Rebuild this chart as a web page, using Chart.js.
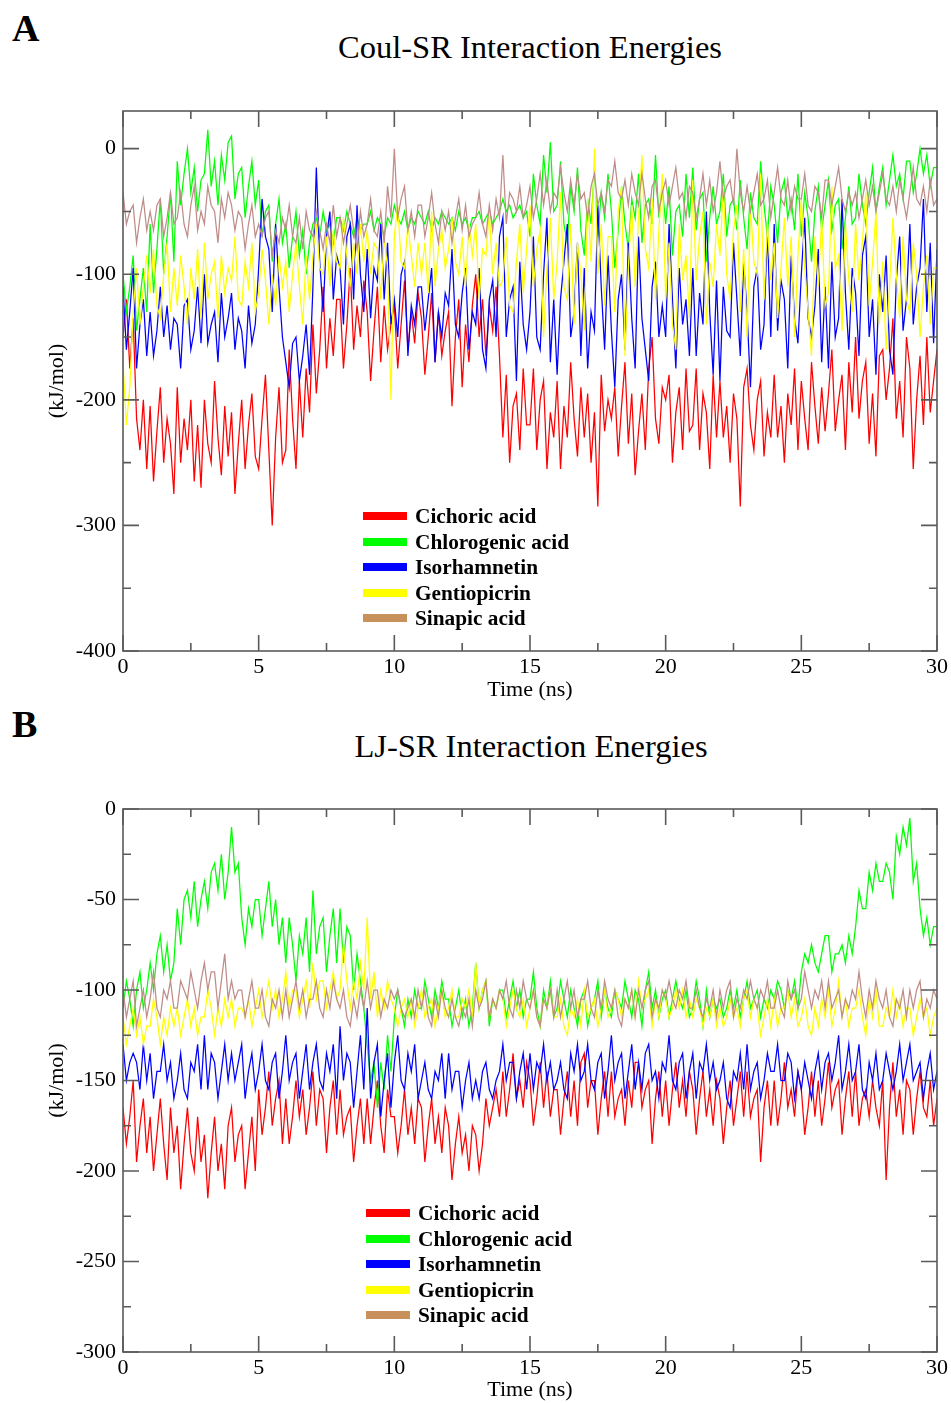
<!DOCTYPE html>
<html>
<head>
<meta charset="utf-8">
<script src="https://cdn.jsdelivr.net/npm/chart.js@4.4.1/dist/chart.umd.min.js"></script>
<style>
  html,body{margin:0;padding:0;background:#fff;}
  body{width:951px;height:1403px;position:relative;overflow:hidden;font-family:"Liberation Serif","Times New Roman",serif;}
  canvas{position:absolute;left:0;}
  .panel{position:absolute;font-weight:bold;font-size:38px;line-height:40px;left:12px;}
  .title{position:absolute;font-size:32.5px;line-height:36px;width:600px;text-align:center;}
  .leg{position:absolute;font-weight:bold;font-size:21.3px;line-height:25px;white-space:nowrap;}
  .sw{position:absolute;width:44px;height:8px;}
</style>
</head>
<body>
<div class="panel" style="top:8px;">A</div>
<div class="title" style="left:230px;top:29px;">Coul-SR Interaction Energies</div>
<div class="panel" style="top:704px;">B</div>
<div class="title" style="left:231px;top:728px;">LJ-SR Interaction Energies</div>
<canvas id="cA" width="951" height="705" style="top:0;width:951px;height:705px;"></canvas>
<canvas id="cB" width="951" height="703" style="top:700px;width:951px;height:703px;"></canvas>
<div id="legA"></div>
<div id="legB"></div>
<script>
const TIME = [
0,0.125,0.25,0.375,0.5,0.625,0.75,0.875, 1,1.125,1.25,1.375,1.5,1.625,1.75,1.875,
2,2.125,2.25,2.375,2.5,2.625,2.75,2.875, 3,3.125,3.25,3.375,3.5,3.625,3.75,3.875,
4,4.125,4.25,4.375,4.5,4.625,4.75,4.875, 5,5.125,5.25,5.375,5.5,5.625,5.75,5.875,
6,6.125,6.25,6.375,6.5,6.625,6.75,6.875, 7,7.125,7.25,7.375,7.5,7.625,7.75,7.875,
8,8.125,8.25,8.375,8.5,8.625,8.75,8.875, 9,9.125,9.25,9.375,9.5,9.625,9.75,9.875,
10,10.125,10.25,10.375,10.5,10.625,10.75,10.875, 11,11.125,11.25,11.375,11.5,11.625,11.75,11.875,
12,12.125,12.25,12.375,12.5,12.625,12.75,12.875, 13,13.125,13.25,13.375,13.5,13.625,13.75,13.875,
14,14.125,14.25,14.375,14.5,14.625,14.75,14.875, 15,15.125,15.25,15.375,15.5,15.625,15.75,15.875,
16,16.125,16.25,16.375,16.5,16.625,16.75,16.875, 17,17.125,17.25,17.375,17.5,17.625,17.75,17.875,
18,18.125,18.25,18.375,18.5,18.625,18.75,18.875, 19,19.125,19.25,19.375,19.5,19.625,19.75,19.875,
20,20.125,20.25,20.375,20.5,20.625,20.75,20.875, 21,21.125,21.25,21.375,21.5,21.625,21.75,21.875,
22,22.125,22.25,22.375,22.5,22.625,22.75,22.875, 23,23.125,23.25,23.375,23.5,23.625,23.75,23.875,
24,24.125,24.25,24.375,24.5,24.625,24.75,24.875, 25,25.125,25.25,25.375,25.5,25.625,25.75,25.875,
26,26.125,26.25,26.375,26.5,26.625,26.75,26.875, 27,27.125,27.25,27.375,27.5,27.625,27.75,27.875,
28,28.125,28.25,28.375,28.5,28.625,28.75,28.875, 29,29.125,29.25,29.375,29.5,29.625,29.75,29.875,
30];

const SERIES_NAMES = ["Cichoric acid","Chlorogenic acid","Isorhamnetin","Gentiopicrin","Sinapic acid"];
const X_TICKS = [0,5,10,15,20,25,30];
const Y_TICKS_A = [-400,-300,-200,-100,0];
const Y_TICKS_B = [-300,-250,-200,-150,-100,-50,0];

// Panel A: Coul-SR (kJ/mol), one row per ns
const COUL_CICHORIC = [
-150,-120,-175,-135,-215,-240,-200,-255,
-205,-265,-225,-190,-250,-215,-235,-275,
-190,-250,-215,-240,-200,-265,-220,-270,
-200,-235,-250,-185,-230,-260,-205,-245,
-210,-275,-235,-200,-255,-220,-195,-245,
-255,-215,-180,-240,-300,-230,-190,-250,
-240,-160,-215,-255,-185,-230,-175,-210,
-140,-195,-160,-110,-175,-135,-165,-120,
-120,-175,-140,-95,-160,-125,-150,-105,
-130,-185,-145,-110,-170,-125,-160,-140,
-125,-175,-140,-105,-160,-130,-155,-115,
-135,-180,-150,-115,-170,-130,-165,-145,
-130,-205,-150,-120,-190,-140,-170,-125,
-100,-150,-120,-165,-125,-145,-110,-165,
-230,-180,-250,-205,-195,-240,-175,-220,
-220,-175,-240,-200,-185,-255,-210,-230,
-185,-255,-205,-230,-170,-215,-245,-190,
-230,-195,-250,-210,-285,-180,-225,-200,
-215,-190,-245,-205,-170,-235,-195,-260,
-225,-195,-240,-175,-150,-215,-235,-190,
-200,-180,-250,-210,-190,-240,-175,-225,
-220,-175,-240,-195,-210,-255,-180,-230,
-185,-230,-205,-250,-195,-215,-285,-190,
-175,-220,-240,-200,-185,-245,-210,-230,
-180,-230,-205,-250,-195,-220,-175,-240,
-185,-215,-240,-170,-205,-235,-190,-225,
-195,-160,-225,-200,-180,-240,-170,-210,
-150,-215,-185,-170,-235,-195,-245,-165,
-160,-200,-175,-135,-215,-185,-230,-150,
-175,-255,-200,-165,-220,-150,-210,-185,
-160];
const COUL_CHLOROGENIC = [
-100,-130,-110,-85,-145,-120,-95,-130,
-60,-115,-80,-40,-100,-70,-35,-90,
-10,-45,-20,0,-35,-15,-50,-25,
-20,15,-30,-10,-45,-5,-25,5,
10,-40,-20,-15,-55,-30,-10,-45,
-25,-70,-50,-45,-90,-60,-40,-75,
-60,-95,-70,-50,-85,-65,-100,-75,
-60,-55,-70,-50,-65,-60,-75,-55,
-55,-65,-50,-60,-70,-55,-65,-60,
-60,-50,-65,-55,-60,-70,-55,-60,
-45,-55,-60,-50,-65,-55,-60,-50,
-55,-60,-50,-65,-55,-60,-50,-55,
-60,-55,-65,-50,-60,-55,-65,-55,
-55,-50,-60,-55,-50,-60,-55,-50,
-40,-50,-45,-55,-50,-45,-55,-50,
-70,-20,-45,-60,-5,-35,5,-50,
-45,-10,-60,-75,-30,-50,-15,-65,
-85,-40,-60,-15,-70,-35,-55,-20,
-50,-95,-65,-30,-60,-80,-40,-55,
-20,-75,-45,-40,-60,-5,-55,-30,
-60,-30,-85,-50,-45,-70,-20,-55,
-15,-65,-40,-35,-90,-55,-30,-60,
-50,-20,-70,-45,-40,-65,-25,-55,
-80,-35,-55,-60,-10,-45,-70,-30,
-45,-75,-35,-25,-55,-40,-65,-20,
-70,-35,-55,-90,-50,-30,-65,-45,
-25,-65,-45,-40,-80,-55,-30,-60,
-55,-20,-45,-60,-35,-15,-50,-30,
-15,-45,-25,-5,-30,-20,-40,-10,
-10,-35,-20,0,-20,-5,-30,-15,
-15];
const COUL_ISORHAMNETIN = [
-110,-160,-130,-95,-175,-140,-120,-165,
-130,-165,-145,-110,-150,-125,-160,-135,
-140,-175,-125,-120,-160,-145,-110,-155,
-100,-155,-140,-130,-170,-115,-150,-135,
-115,-160,-135,-145,-175,-125,-155,-140,
-95,-40,-70,-80,-130,-60,-110,-150,
-170,-190,-155,-150,-185,-165,-140,-180,
-110,-15,-90,-130,-70,-50,-120,-85,
-95,-140,-70,-60,-120,-45,-100,-130,
-80,-135,-95,-105,-60,-120,-75,-140,
-120,-150,-100,-90,-165,-125,-140,-110,
-110,-145,-120,-95,-170,-130,-150,-115,
-125,-80,-140,-150,-115,-95,-160,-130,
-140,-95,-160,-175,-120,-105,-150,-70,
-55,-150,-120,-110,-185,-90,-140,-160,
-130,-70,-150,-160,-100,-55,-170,-120,
-180,-120,-90,-60,-150,-130,-75,-165,
-95,-175,-130,-145,-45,-110,-160,-85,
-145,-190,-120,-100,-160,-75,-135,-175,
-70,-135,-160,-185,-110,-90,-150,-125,
-150,-60,-120,-175,-95,-140,-120,-165,
-95,-165,-115,-140,-50,-130,-180,-105,
-185,-110,-145,-150,-75,-120,-165,-90,
-130,-190,-110,-95,-160,-140,-65,-150,
-60,-145,-105,-120,-175,-85,-135,-155,
-100,-55,-135,-150,-125,-80,-170,-110,
-175,-90,-150,-135,-40,-115,-160,-95,
-115,-165,-85,-70,-150,-120,-180,-100,
-130,-85,-160,-180,-105,-70,-145,-120,
-60,-140,-110,-95,-40,-130,-75,-155,
-80];
const COUL_GENTIOPICRIN = [
-170,-220,-190,-130,-95,-140,-110,-85,
-115,-80,-125,-135,-100,-75,-130,-95,
-125,-85,-110,-140,-95,-120,-80,-135,
-75,-120,-100,-90,-135,-85,-115,-95,
-105,-70,-120,-125,-90,-110,-75,-130,
-115,-80,-105,-140,-100,-125,-85,-110,
-90,-130,-100,-75,-110,-140,-85,-120,
-85,-60,-95,-100,-70,-110,-65,-90,
-95,-55,-85,-110,-75,-100,-60,-90,
-65,-100,-75,-80,-120,-70,-95,-200,
-70,-45,-90,-95,-60,-85,-110,-75,
-100,-75,-115,-50,-110,-80,-65,-95,
-80,-55,-90,-100,-70,-110,-60,-85,
-60,-120,-80,-85,-50,-100,-75,-110,
-105,-70,-125,-130,-90,-60,-115,-80,
-45,-110,-80,-65,-150,-95,-55,-120,
-90,-35,-110,-120,-60,-140,-75,-100,
-145,-40,-90,0,-100,-60,-125,-70,
-70,-130,-50,-30,-165,-95,-45,-110,
-55,-5,-80,-95,-40,-120,-65,-20,
-120,-75,-140,-160,-60,-105,-85,-135,
-25,-105,-70,-50,-140,-90,-110,-60,
-85,-30,-100,-120,-65,-45,-130,-80,
-150,-45,-90,-100,-20,-120,-60,-105,
-75,-135,-95,-55,-110,-70,-150,-85,
-40,-95,-130,-165,-70,-110,-55,-125,
-115,-30,-95,-85,-145,-60,-105,-130,
-60,-105,-75,-35,-125,-90,-50,-140,
-90,-160,-110,-55,-100,-135,-70,-120,
-130,-75,-100,-150,-110,-85,-140,-95,
-95];
const COUL_SINAPIC = [
-35,-60,-50,-45,-75,-55,-40,-65,
-50,-65,-45,-40,-70,-55,-35,-60,
-55,-35,-60,-70,-45,-30,-65,-50,
-60,-30,-45,-50,-75,-40,-55,-35,
-45,-65,-50,-55,-80,-60,-45,-70,
-60,-70,-55,-50,-85,-65,-75,-55,
-65,-45,-70,-75,-55,-80,-50,-65,
-70,-50,-65,-80,-60,-75,-45,-70,
-55,-75,-60,-45,-65,-80,-50,-70,
-60,-40,-65,-70,-50,-75,-30,-55,
0,-55,-40,-30,-65,-50,-70,-45,
-45,-70,-55,-35,-60,-75,-50,-65,
-50,-75,-55,-40,-65,-45,-70,-60,
-55,-35,-60,-70,-45,-65,-40,-55,
-5,-60,-35,-40,-50,-30,-55,-45,
-30,-55,-40,-20,-45,-25,-50,-35,
-40,-15,-35,-50,-25,-45,-20,-40,
-35,-55,-30,-20,-45,-35,-50,-25,
-30,-10,-35,-40,-25,-45,-20,-35,
-45,-20,-40,-55,-30,-25,-50,-35,
-25,-45,-30,-15,-40,-35,-55,-30,
-35,-55,-40,-20,-45,-25,-50,-35,
-10,-40,-30,-25,-45,0,-35,-50,
-30,-50,-35,-20,-45,-40,-25,-55,
-35,-15,-40,-45,-25,-50,-30,-40,
-40,-20,-45,-50,-30,-35,-55,-25,
-25,-45,-30,-15,-40,-50,-35,-45,
-35,-55,-40,-25,-45,-30,-50,-35,
-20,-40,-45,-30,-50,-25,-40,-55,
-35,-15,-40,-45,-30,-50,-25,-45,
-40];

// Panel B: LJ-SR (kJ/mol), one row per ns
const LJ_CICHORIC = [
-165,-185,-170,-150,-195,-175,-160,-190,
-170,-200,-180,-160,-185,-205,-165,-190,
-175,-210,-185,-165,-190,-200,-170,-195,
-180,-215,-190,-170,-200,-185,-210,-175,
-165,-195,-180,-175,-210,-190,-170,-200,
-155,-180,-165,-145,-175,-160,-150,-185,
-160,-185,-170,-150,-170,-155,-180,-165,
-145,-175,-155,-160,-190,-165,-150,-180,
-155,-180,-170,-165,-195,-175,-160,-185,
-160,-185,-165,-150,-175,-190,-155,-170,
-170,-190,-175,-155,-180,-165,-185,-160,
-165,-195,-175,-160,-185,-170,-190,-165,
-175,-205,-185,-170,-190,-180,-200,-175,
-180,-200,-185,-160,-175,-165,-155,-170,
-145,-170,-155,-135,-160,-150,-165,-140,
-150,-175,-160,-140,-165,-145,-170,-155,
-155,-180,-160,-145,-170,-150,-175,-140,
-135,-165,-150,-150,-180,-160,-145,-170,
-145,-170,-160,-155,-175,-150,-165,-140,
-140,-165,-155,-150,-185,-160,-145,-170,
-150,-175,-155,-140,-165,-150,-170,-145,
-155,-180,-160,-145,-170,-155,-175,-150,
-160,-185,-165,-150,-175,-160,-145,-170,
-145,-170,-160,-155,-195,-165,-150,-175,
-150,-175,-160,-140,-165,-155,-170,-145,
-155,-180,-165,-145,-170,-150,-175,-160,
-140,-165,-155,-150,-180,-160,-145,-170,
-145,-175,-160,-155,-170,-150,-165,-175,
-150,-205,-165,-140,-170,-155,-180,-150,
-155,-180,-160,-145,-165,-170,-150,-175,
-160];
const LJ_CHLOROGENIC = [
-110,-95,-105,-120,-100,-90,-110,-100,
-85,-100,-80,-70,-90,-75,-95,-85,
-55,-75,-50,-45,-60,-40,-65,-50,
-40,-55,-35,-30,-45,-25,-50,-35,
-10,-35,-30,-60,-75,-55,-65,-50,
-50,-70,-55,-40,-65,-50,-75,-60,
-85,-60,-75,-95,-70,-80,-60,-90,
-45,-80,-65,-60,-90,-70,-55,-85,
-55,-85,-65,-70,-100,-80,-95,-110,
-130,-150,-140,-165,-140,-155,-125,-145,
-115,-100,-110,-120,-105,-115,-100,-110,
-110,-95,-105,-115,-100,-110,-95,-105,
-105,-120,-110,-100,-115,-105,-120,-110,
-85,-110,-100,-95,-120,-105,-110,-100,
-100,-115,-105,-95,-110,-100,-115,-105,
-105,-90,-110,-120,-100,-110,-95,-115,
-110,-95,-105,-115,-100,-110,-120,-105,
-100,-120,-110,-105,-95,-115,-100,-110,
-115,-100,-105,-110,-95,-105,-115,-100,
-105,-120,-100,-90,-110,-100,-115,-105,
-100,-115,-105,-95,-105,-110,-100,-115,
-110,-95,-105,-120,-100,-115,-105,-110,
-105,-115,-110,-100,-110,-100,-115,-105,
-95,-110,-105,-100,-115,-105,-110,-100,
-105,-95,-100,-110,-100,-105,-95,-110,
-90,-80,-85,-75,-85,-90,-80,-70,
-70,-90,-80,-80,-75,-85,-70,-80,
-65,-45,-55,-55,-35,-45,-30,-40,
-40,-30,-35,-50,-15,-25,-10,-20,
-5,-40,-30,-55,-70,-60,-75,-65,
-65];
const LJ_ISORHAMNETIN = [
-130,-150,-140,-135,-140,-155,-130,-150,
-135,-160,-145,-145,-130,-150,-140,-160,
-150,-135,-155,-160,-140,-145,-130,-155,
-125,-155,-135,-140,-160,-145,-130,-150,
-135,-150,-140,-130,-160,-145,-135,-155,
-145,-130,-150,-155,-140,-135,-160,-145,
-125,-150,-140,-135,-160,-145,-130,-155,
-140,-130,-150,-155,-135,-145,-130,-160,
-120,-150,-135,-140,-165,-145,-125,-155,
-110,-160,-140,-130,-170,-150,-135,-165,
-140,-125,-150,-155,-135,-145,-130,-160,
-150,-140,-155,-160,-145,-150,-135,-160,
-135,-155,-145,-145,-165,-150,-140,-160,
-150,-160,-145,-140,-155,-160,-150,-145,
-130,-150,-140,-140,-160,-145,-135,-155,
-135,-155,-140,-145,-130,-150,-140,-155,
-150,-140,-155,-160,-135,-145,-130,-150,
-145,-130,-150,-155,-140,-135,-160,-145,
-125,-150,-140,-135,-160,-145,-130,-155,
-140,-155,-135,-130,-150,-145,-160,-140,
-145,-125,-150,-155,-140,-135,-160,-145,
-135,-160,-140,-145,-130,-150,-140,-155,
-150,-140,-160,-165,-145,-150,-135,-155,
-130,-155,-145,-140,-160,-150,-135,-145,
-145,-130,-150,-150,-135,-140,-160,-145,
-155,-140,-150,-160,-145,-135,-155,-140,
-135,-150,-140,-125,-155,-145,-130,-150,
-145,-130,-155,-160,-140,-150,-135,-155,
-150,-135,-145,-155,-145,-130,-150,-140,
-130,-150,-145,-140,-160,-145,-135,-155,
-145];
const LJ_GENTIOPICRIN = [
-115,-130,-120,-110,-125,-115,-130,-120,
-120,-105,-115,-130,-115,-125,-110,-120,
-110,-125,-115,-105,-120,-110,-125,-115,
-115,-100,-110,-125,-110,-120,-105,-115,
-105,-120,-110,-110,-115,-105,-120,-110,
-100,-115,-105,-95,-110,-100,-115,-105,
-90,-110,-100,-100,-115,-105,-95,-110,
-85,-105,-95,-95,-110,-100,-90,-105,
-100,-75,-95,-110,-95,-105,-85,-100,
-60,-105,-90,-115,-100,-110,-95,-105,
-110,-120,-110,-105,-115,-105,-120,-110,
-100,-115,-110,-105,-120,-110,-100,-115,
-110,-100,-115,-115,-105,-110,-100,-115,
-85,-110,-100,-95,-115,-105,-110,-100,
-105,-120,-110,-100,-110,-115,-105,-120,
-110,-100,-115,-120,-105,-110,-100,-115,
-115,-105,-120,-125,-110,-115,-105,-120,
-100,-115,-110,-105,-120,-110,-100,-115,
-110,-100,-105,-115,-105,-110,-100,-115,
-95,-110,-105,-100,-120,-105,-115,-100,
-105,-115,-110,-100,-110,-100,-115,-105,
-115,-105,-110,-120,-110,-115,-105,-120,
-110,-120,-115,-105,-115,-110,-120,-105,
-100,-115,-105,-110,-125,-115,-105,-120,
-105,-120,-110,-110,-100,-115,-105,-120,
-115,-105,-120,-125,-110,-120,-105,-115,
-100,-120,-110,-95,-115,-105,-120,-110,
-110,-100,-115,-125,-105,-115,-100,-120,
-120,-110,-115,-100,-115,-105,-120,-110,
-110,-125,-115,-105,-115,-110,-125,-115,
-110];
const LJ_SINAPIC = [
-100,-115,-105,-95,-120,-110,-100,-115,
-105,-90,-110,-115,-100,-105,-95,-110,
-110,-95,-100,-105,-90,-100,-110,-95,
-85,-100,-90,-90,-110,-95,-80,-105,
-95,-105,-100,-100,-115,-105,-95,-110,
-110,-100,-115,-120,-105,-110,-100,-115,
-100,-115,-105,-95,-110,-100,-115,-105,
-105,-95,-110,-115,-100,-110,-95,-105,
-110,-100,-115,-120,-105,-115,-100,-110,
-95,-110,-100,-100,-115,-105,-110,-100,
-105,-100,-110,-115,-110,-105,-115,-100,
-110,-100,-115,-120,-105,-115,-100,-110,
-115,-105,-115,-120,-110,-115,-105,-120,
-100,-110,-105,-95,-115,-105,-110,-100,
-105,-95,-110,-115,-100,-110,-95,-105,
-110,-100,-115,-120,-105,-110,-100,-115,
-100,-115,-105,-95,-110,-100,-115,-105,
-105,-95,-110,-115,-100,-110,-95,-105,
-110,-100,-115,-120,-105,-110,-100,-115,
-100,-110,-100,-95,-115,-105,-110,-100,
-105,-95,-105,-110,-100,-105,-95,-110,
-110,-100,-110,-115,-105,-110,-100,-115,
-100,-110,-100,-95,-115,-105,-110,-100,
-105,-95,-105,-110,-100,-105,-95,-110,
-110,-100,-110,-115,-95,-105,-100,-110,
-105,-90,-100,-110,-100,-105,-95,-110,
-95,-110,-105,-100,-115,-105,-110,-100,
-105,-90,-105,-115,-100,-110,-95,-105,
-110,-100,-115,-120,-105,-110,-100,-115,
-100,-110,-100,-95,-115,-105,-110,-100,
-105];

const LINE_COLORS = ["#ff0000","#00ff00","#0000ff","#ffff00","#bf8c88"];
const LEGEND_COLORS = ["#ff0000","#00ff00","#0000ff","#ffff00","#c8905a"];
const FONT = '"Liberation Serif","Times New Roman",serif';

const frameTicks = {
  id: 'frameTicks',
  afterDraw(chart) {
    const {ctx, chartArea: a, scales: {x, y}} = chart;
    ctx.save();
    ctx.strokeStyle = '#5a5a5a';
    ctx.lineWidth = 1.6;
    ctx.strokeRect(a.left, a.top, a.right - a.left, a.bottom - a.top);
    ctx.beginPath();
    const xv = x.ticks.map(t => t.value);
    const yv = y.ticks.map(t => t.value);
    const xTick = (v, len) => {
      const p = x.getPixelForValue(v);
      ctx.moveTo(p, a.bottom); ctx.lineTo(p, a.bottom - len);
      ctx.moveTo(p, a.top); ctx.lineTo(p, a.top + len);
    };
    const yTick = (v, len) => {
      const p = y.getPixelForValue(v);
      ctx.moveTo(a.left, p); ctx.lineTo(a.left + len, p);
      ctx.moveTo(a.right, p); ctx.lineTo(a.right - len, p);
    };
    xv.forEach(v => xTick(v, 16));
    for (let i = 0; i < xv.length - 1; i++) xTick((xv[i] + xv[i + 1]) / 2, 8);
    yv.forEach(v => yTick(v, 16));
    for (let i = 0; i < yv.length - 1; i++) yTick((yv[i] + yv[i + 1]) / 2, 8);
    ctx.stroke();
    ctx.restore();
  }
};

function makeChart(id, seriesList, yMin, yMax, yTicks, padTop, xHeight, xTitlePad) {
  const datasets = seriesList.map((vals, i) => ({
    label: SERIES_NAMES[i],
    data: vals.map((v, k) => ({x: TIME[k], y: v})),
    borderColor: LINE_COLORS[i],
    borderWidth: 1.25,
    pointRadius: 0,
    tension: 0,
    fill: false,
    order: 5 - i
  }));
  return new Chart(document.getElementById(id), {
    type: 'line',
    data: {datasets},
    plugins: [frameTicks],
    options: {
      responsive: false,
      animation: false,
      devicePixelRatio: 1,
      layout: {padding: {top: padTop, right: 13, left: 0, bottom: 0}},
      plugins: {legend: {display: false}, tooltip: {enabled: false}},
      scales: {
        x: {
          type: 'linear', min: 0, max: 30,
          afterBuildTicks: s => { s.ticks = X_TICKS.map(v => ({value: v})); },
          afterFit: s => { s.height = xHeight; },
          grid: {display: false, drawTicks: false},
          border: {display: false},
          ticks: {color: '#000', font: {family: FONT, size: 22}, padding: 3, maxRotation: 0, autoSkip: false},
          title: {display: true, text: 'Time (ns)', color: '#000', font: {family: FONT, size: 22}, padding: {top: 0, bottom: xTitlePad}}
        },
        y: {
          type: 'linear', min: yMin, max: yMax,
          afterBuildTicks: s => { s.ticks = yTicks.map(v => ({value: v})); },
          afterFit: s => { s.width = 123; },
          grid: {display: false, drawTicks: false},
          border: {display: false},
          ticks: {color: '#000', font: {family: FONT, size: 22}, padding: 7, autoSkip: false},
          title: {display: true, text: '(kJ/mol)', color: '#000', font: {family: FONT, size: 22}, padding: {top: 43.8, bottom: 0}}
        }
      }
    }
  });
}

makeChart('cA', [COUL_CICHORIC, COUL_CHLOROGENIC, COUL_ISORHAMNETIN, COUL_GENTIOPICRIN, COUL_SINAPIC], -400, 30, Y_TICKS_A, 111, 54, 1.8);
makeChart('cB', [LJ_CICHORIC, LJ_CHLOROGENIC, LJ_ISORHAMNETIN, LJ_GENTIOPICRIN, LJ_SINAPIC], -300, 0, Y_TICKS_B, 109, 51, 0);

function buildLegend(elId, swLeft, textLeft, centers) {
  const el = document.getElementById(elId);
  SERIES_NAMES.forEach((name, i) => {
    const sw = document.createElement('div');
    sw.className = 'sw';
    sw.style.left = swLeft + 'px';
    sw.style.top = (centers[i] - 4) + 'px';
    sw.style.background = LEGEND_COLORS[i];
    el.appendChild(sw);
    const t = document.createElement('div');
    t.className = 'leg';
    t.style.left = textLeft + 'px';
    t.style.top = (centers[i] - 12.5) + 'px';
    t.textContent = name;
    el.appendChild(t);
  });
}
buildLegend('legA', 363, 415, [516, 542, 567, 593, 618]);
buildLegend('legB', 366, 418, [1213, 1239, 1264, 1290, 1315]);
</script>
</body>
</html>
